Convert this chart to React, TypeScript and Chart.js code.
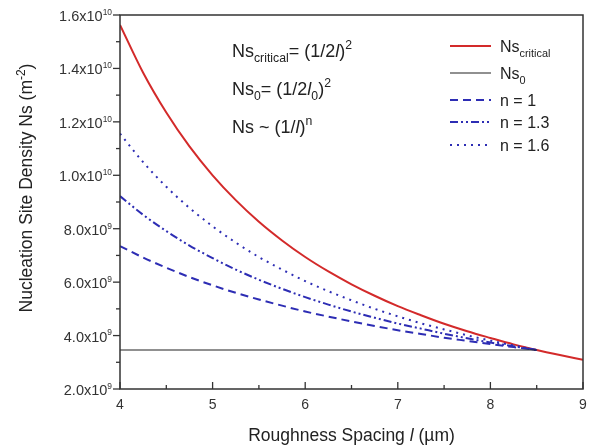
import React, { useEffect, useRef } from "react";
import Chart from "chart.js/auto";

// Roughness spacing l (µm) sample positions
const spacingFull = [4, 4.25, 4.5, 4.75, 5, 5.25, 5.5, 5.75, 6, 6.25, 6.5, 6.75, 7, 7.25, 7.5, 7.75, 8, 8.25, 8.5, 8.75, 9];
const spacingN = [4, 4.25, 4.5, 4.75, 5, 5.25, 5.5, 5.75, 6, 6.25, 6.5, 6.75, 7, 7.25, 7.5, 7.75, 8, 8.25, 8.5];
const spacingNs0 = [4, 8.5];

// Nucleation site density values (m^-2)
const nsCritical = [15.63e9, 13.84e9, 12.35e9, 11.08e9, 10.0e9, 9.07e9, 8.26e9, 7.56e9, 6.94e9, 6.4e9, 5.92e9, 5.49e9, 5.1e9, 4.76e9, 4.44e9, 4.16e9, 3.91e9, 3.67e9, 3.46e9, 3.27e9, 3.09e9];
const ns0 = [3.46e9, 3.46e9];
const nsN1 = [7.35e9, 6.92e9, 6.54e9, 6.19e9, 5.88e9, 5.6e9, 5.35e9, 5.12e9, 4.9e9, 4.71e9, 4.53e9, 4.36e9, 4.2e9, 4.06e9, 3.92e9, 3.8e9, 3.68e9, 3.57e9, 3.46e9];
const nsN13 = [9.22e9, 8.52e9, 7.91e9, 7.37e9, 6.9e9, 6.47e9, 6.09e9, 5.75e9, 5.44e9, 5.16e9, 4.9e9, 4.67e9, 4.45e9, 4.26e9, 4.07e9, 3.9e9, 3.74e9, 3.6e9, 3.46e9];
const nsN16 = [11.56e9, 10.49e9, 9.57e9, 8.78e9, 8.09e9, 7.48e9, 6.94e9, 6.47e9, 6.04e9, 5.66e9, 5.32e9, 5.0e9, 4.72e9, 4.46e9, 4.23e9, 4.01e9, 3.81e9, 3.63e9, 3.46e9];

const xMin = 4, xMax = 9, xStep = 1;
const yMin = 2e9, yMax = 1.6e10, yStep = 2e9;

const FONT = '"Liberation Sans", Arial, sans-serif';
const RED = "#d32a2a";
const BLUE = "#2d2db4";
const AXIS = "#333333";

type Seg = { t: string; s?: "n" | "i" | "sub" | "sup" };

function segFont(seg: Seg, size: number, small: number) {
  const isSmall = seg.s === "sub" || seg.s === "sup";
  const sz = isSmall ? size * small : size;
  return `${seg.s === "i" ? "italic " : ""}${sz}px ${FONT}`;
}

function drawRich(ctx: CanvasRenderingContext2D, x: number, y: number, segs: Seg[], size: number, align: "left" | "right" | "center" = "left", color = "#222", small = 0.68) {
  let w = 0;
  for (const seg of segs) {
    ctx.font = segFont(seg, size, small);
    w += ctx.measureText(seg.t).width;
  }
  let cx = align === "left" ? x : align === "right" ? x - w : x - w / 2;
  ctx.save();
  ctx.fillStyle = color;
  ctx.textAlign = "left";
  ctx.textBaseline = "alphabetic";
  for (const seg of segs) {
    ctx.font = segFont(seg, size, small);
    let dy = 0;
    if (seg.s === "sub") dy = size * 0.3;
    if (seg.s === "sup") dy = -size * 0.42;
    ctx.fillText(seg.t, cx, y + dy);
    cx += ctx.measureText(seg.t).width;
  }
  ctx.restore();
}

const decorPlugin = {
  id: "decor",
  afterDatasetsDraw(chart: any) {
    const ctx: CanvasRenderingContext2D = chart.ctx;
    const { left, right, top, bottom } = chart.chartArea;
    const xs = chart.scales.x;
    const ys = chart.scales.y;
    ctx.save();
    // frame
    ctx.strokeStyle = AXIS;
    ctx.lineWidth = 1.5;
    ctx.strokeRect(left, top, right - left, bottom - top);

    // x ticks (inside) major + minor
    ctx.lineWidth = 1.3;
    xs.ticks.forEach((t: any, i: number) => {
      const px = xs.getPixelForValue(t.value);
      ctx.beginPath();
      ctx.moveTo(px, bottom);
      ctx.lineTo(px, bottom - 7);
      ctx.stroke();
      drawRich(ctx, px, bottom + 20, [{ t: String(t.value) }], 14, "center", "#333");
      if (i < xs.ticks.length - 1) {
        const mx = xs.getPixelForValue(t.value + xStep / 2);
        ctx.beginPath();
        ctx.moveTo(mx, bottom);
        ctx.lineTo(mx, bottom - 4);
        ctx.stroke();
      }
    });
    // y ticks (outside) major + minor
    ys.ticks.forEach((t: any, i: number) => {
      const py = ys.getPixelForValue(t.value);
      ctx.beginPath();
      ctx.moveTo(left, py);
      ctx.lineTo(left - 7, py);
      ctx.stroke();
      const exp = Math.floor(Math.log10(t.value) + 1e-9);
      const mant = (t.value / Math.pow(10, exp)).toFixed(1);
      drawRich(ctx, left - 8, py + 6, [{ t: `${mant}x10` }, { t: String(exp), s: "sup" }], 14.5, "right", "#333", 0.58);
      if (i < ys.ticks.length - 1) {
        const my = ys.getPixelForValue(t.value + yStep / 2);
        ctx.beginPath();
        ctx.moveTo(left, my);
        ctx.lineTo(left - 4, my);
        ctx.stroke();
      }
    });

    // axis titles
    drawRich(ctx, (left + right) / 2, 441, [{ t: "Roughness Spacing " }, { t: "l", s: "i" }, { t: " (µm)" }], 17.5, "center", "#222");
    ctx.save();
    ctx.translate(32, 188);
    ctx.rotate(-Math.PI / 2);
    drawRich(ctx, 0, 0, [{ t: "Nucleation Site Density Ns (m" }, { t: "-2", s: "sup" }, { t: ")" }], 17.5, "center", "#222");
    ctx.restore();

    // annotations
    drawRich(ctx, 232, 57, [{ t: "Ns" }, { t: "critical", s: "sub" }, { t: "= (1/2" }, { t: "l", s: "i" }, { t: ")" }, { t: "2", s: "sup" }], 18);
    drawRich(ctx, 232, 95, [{ t: "Ns" }, { t: "0", s: "sub" }, { t: "= (1/2" }, { t: "l", s: "i" }, { t: "0", s: "sub" }, { t: ")" }, { t: "2", s: "sup" }], 18);
    drawRich(ctx, 232, 133, [{ t: "Ns ~ (1/" }, { t: "l", s: "i" }, { t: ")" }, { t: "n", s: "sup" }], 18);

    // legend
    const rows: { label: Seg[]; color: string; dash: number[]; width: number; y: number }[] = [
      { label: [{ t: "Ns" }, { t: "critical", s: "sub" }], color: RED, dash: [], width: 2, y: 46 },
      { label: [{ t: "Ns" }, { t: "0", s: "sub" }], color: "#222", dash: [], width: 1.2, y: 73 },
      { label: [{ t: "n = 1" }], color: BLUE, dash: [8, 5], width: 2, y: 100 },
      { label: [{ t: "n = 1.3" }], color: BLUE, dash: [8, 3, 2, 3, 2, 3], width: 2, y: 122 },
      { label: [{ t: "n = 1.6" }], color: BLUE, dash: [2, 5], width: 2, y: 145 },
    ];
    rows.forEach((r) => {
      ctx.save();
      ctx.strokeStyle = r.color;
      ctx.lineWidth = r.width;
      ctx.setLineDash(r.dash);
      ctx.beginPath();
      ctx.moveTo(450, r.y);
      ctx.lineTo(491, r.y);
      ctx.stroke();
      ctx.restore();
      drawRich(ctx, 500, r.y + 6, r.label, 16, "left", "#222");
    });
    ctx.restore();
  },
};

function pts(xs: number[], ys: number[]) {
  return xs.map((x, i) => ({ x, y: ys[i] }));
}

export default function App() {
  const ref = useRef<HTMLCanvasElement | null>(null);
  useEffect(() => {
    document.body.style.margin = "0";
    const canvas = ref.current!;
    const chart = new Chart(canvas, {
      type: "line",
      data: {
        datasets: [
          { label: "Ns0", data: pts(spacingNs0, ns0), borderColor: "#222", borderWidth: 1.2, pointRadius: 0, tension: 0 },
          { label: "n = 1", data: pts(spacingN, nsN1), borderColor: BLUE, borderWidth: 2, borderDash: [8, 5], pointRadius: 0, cubicInterpolationMode: "monotone" },
          { label: "n = 1.3", data: pts(spacingN, nsN13), borderColor: BLUE, borderWidth: 2, borderDash: [8, 3, 2, 3, 2, 3], pointRadius: 0, cubicInterpolationMode: "monotone" },
          { label: "n = 1.6", data: pts(spacingN, nsN16), borderColor: BLUE, borderWidth: 2, borderDash: [2, 5], pointRadius: 0, cubicInterpolationMode: "monotone" },
          { label: "Ns critical", data: pts(spacingFull, nsCritical), borderColor: RED, borderWidth: 2, pointRadius: 0, cubicInterpolationMode: "monotone" },
        ],
      },
      options: {
        responsive: false,
        animation: false,
        layout: { padding: { top: 15, right: 7, left: 0, bottom: 0 } },
        plugins: { legend: { display: false }, tooltip: { enabled: false } },
        scales: {
          x: {
            type: "linear",
            min: xMin,
            max: xMax,
            ticks: { stepSize: xStep, display: false },
            grid: { display: false },
            border: { display: false },
            afterFit: (s: any) => { s.height = 59; },
          },
          y: {
            type: "linear",
            min: yMin,
            max: yMax,
            ticks: { stepSize: yStep, display: false },
            grid: { display: false },
            border: { display: false },
            afterFit: (s: any) => { s.width = 120; },
          },
        },
      } as any,
      plugins: [decorPlugin],
    });
    return () => chart.destroy();
  }, []);
  return <canvas ref={ref} width={590} height={448} style={{ display: "block" }} />;
}
